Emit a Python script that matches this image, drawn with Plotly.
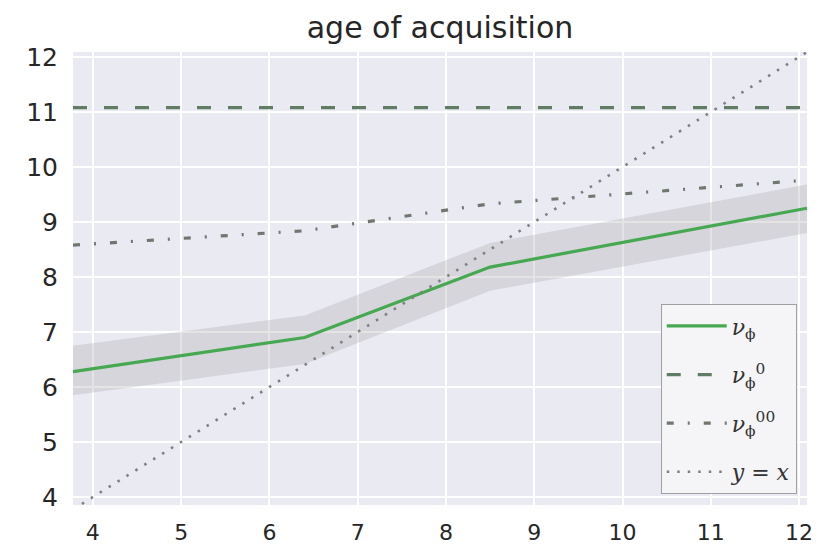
import plotly.graph_objects as go

# ---- data ----
x_knots = [3.775, 6.4, 8.5, 12.09]
nu_phi = [6.28, 6.9, 8.18, 9.25]
nu_phi_upper = [6.75, 7.3, 8.62, 9.68]
nu_phi_lower = [5.85, 6.42, 7.75, 8.8]
nu_phi_00 = [8.58, 8.84, 9.33, 9.76]
x_span = [3.775, 12.09]
nu_phi_0 = [11.08, 11.08]
identity = [3.775, 12.09]
tick_vals = [4, 5, 6, 7, 8, 9, 10, 11, 12]
tick_text = ["4", "5", "6", "7", "8", "9", "10", "11", "12"]
title_text = "age of acquisition"

fig = go.Figure()

# confidence band
fig.add_trace(go.Scatter(x=x_knots, y=nu_phi_lower, mode="lines",
                         line=dict(width=0, color="rgba(0,0,0,0)"),
                         showlegend=False, hoverinfo="skip"))
fig.add_trace(go.Scatter(x=x_knots, y=nu_phi_upper, mode="lines",
                         line=dict(width=0, color="rgba(0,0,0,0)"),
                         fill="tonexty", fillcolor="rgba(165,165,165,0.30)",
                         showlegend=False, hoverinfo="skip"))

fig.add_trace(go.Scatter(x=x_knots, y=nu_phi, mode="lines",
                         line=dict(color="#47a852", width=3.2),
                         name="<i>ν</i><sub>ϕ</sub>", legendgroup="a"))
fig.add_trace(go.Scatter(x=x_span, y=nu_phi_0, mode="lines",
                         line=dict(color="#607c63", width=3.2, dash="14px,17px"),
                         name="<i>ν</i><sub>ϕ</sub><sup>0</sup>", legendgroup="b"))
fig.add_trace(go.Scatter(x=x_knots, y=nu_phi_00, mode="lines",
                         line=dict(color="#6f776f", width=3.2, dash="7px,14px,2px,14px"),
                         name="<i>ν</i><sub>ϕ</sub><sup>00</sup>", legendgroup="c"))
fig.add_trace(go.Scatter(x=identity, y=identity, mode="lines",
                         line=dict(color="#7f7f7f", width=2.6, dash="2.5px,8px"),
                         name="<i>y</i> = <i>x</i>", legendgroup="d"))

fig.update_layout(
    width=823, height=555,
    margin=dict(l=73, r=10, t=52, b=50),
    paper_bgcolor="white",
    plot_bgcolor="#eaeaf2",
    title=dict(text=title_text, xref="paper", x=0.5, xanchor="center",
               yref="container", y=0.95, yanchor="middle",
               font=dict(family="DejaVu Sans", size=30, color="#262626")),
    font=dict(family="DejaVu Sans", color="#262626"),
    legend=dict(x=0.986, xanchor="right", y=0.024, yanchor="bottom",
                bgcolor="#f5f5f7", bordercolor="#a0a0a0", borderwidth=1,
                traceorder="grouped", tracegroupgap=17, itemwidth=60,
                font=dict(family="DejaVu Serif", size=22, color="#333333")),
    showlegend=True,
)
fig.update_xaxes(range=[3.775, 12.09], tickvals=tick_vals, ticktext=tick_text,
                 showgrid=True, gridcolor="white", gridwidth=1.8, zeroline=False,
                 showline=False, ticks="", ticklabelstandoff=12,
                 tickfont=dict(size=22, color="#262626"))
fig.update_yaxes(range=[3.855, 12.09], tickvals=tick_vals, ticktext=tick_text,
                 showgrid=True, gridcolor="white", gridwidth=1.8, zeroline=False,
                 showline=False, ticks="", ticklabelstandoff=14,
                 tickfont=dict(size=25, color="#262626"))

fig.write_html("out.html")
